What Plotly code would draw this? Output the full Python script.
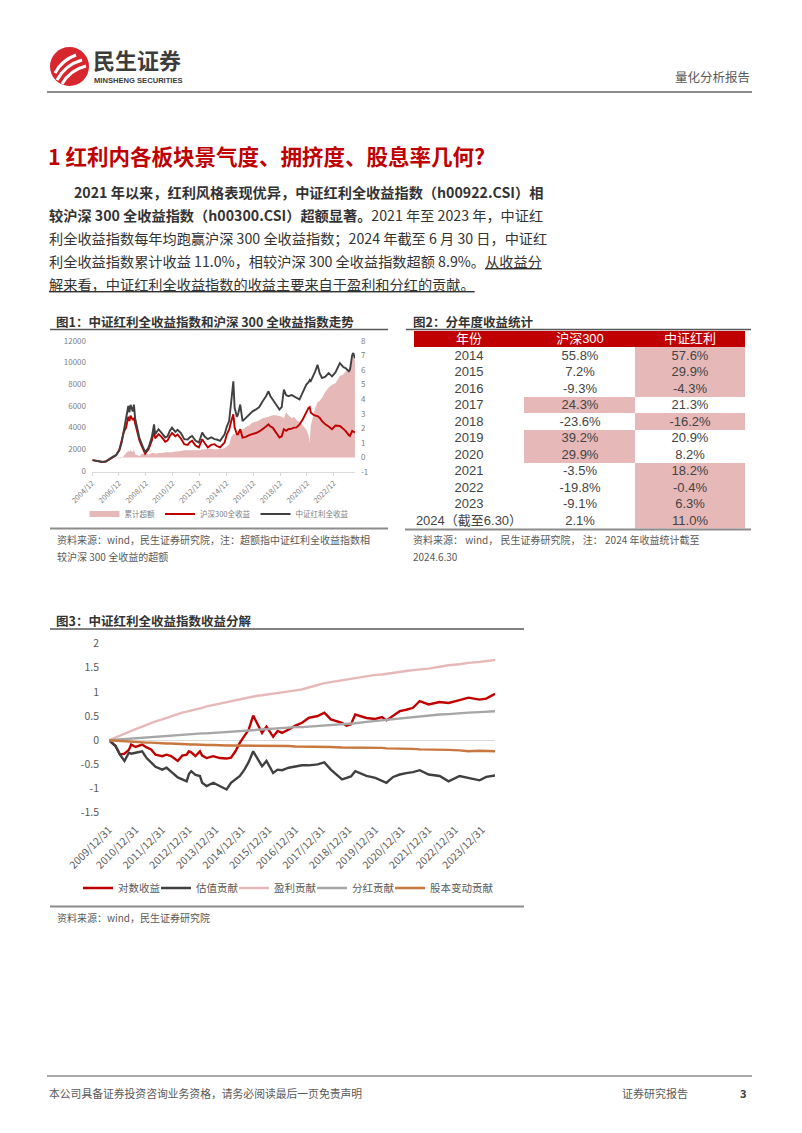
import plotly.graph_objects as go

W, H = 802, 1133
FONT = "Noto Sans CJK SC"
TABLE_FONT = "Liberation Sans, Noto Sans CJK SC"


def px(x):
    return x / W


def py(y):
    return 1 - y / H


# ---------------- Figure 1 data ----------------
f1_dates = [
    "2004-12-15", "2005-03-15", "2005-06-15", "2005-09-15", "2005-12-15", "2006-03-15", "2006-06-15", "2006-09-15", "2006-12-15", "2007-02-15",
    "2007-04-15", "2007-06-15", "2007-08-15", "2007-09-15", "2007-10-15", "2007-12-15", "2008-01-15", "2008-02-15", "2008-04-15", "2008-06-15",
    "2008-08-15", "2008-11-15", "2009-02-15", "2009-05-15", "2009-07-15", "2009-08-15", "2009-11-15", "2010-02-15", "2010-05-15", "2010-07-15",
    "2010-09-15", "2010-11-15", "2011-02-15", "2011-04-15", "2011-07-15", "2011-10-15", "2012-01-15", "2012-03-15", "2012-05-15", "2012-08-15",
    "2012-11-15", "2013-02-15", "2013-04-15", "2013-07-15", "2013-10-15", "2014-01-15", "2014-03-15", "2014-06-15", "2014-08-15", "2014-10-15",
    "2014-12-15", "2015-02-15", "2015-04-15", "2015-06-10", "2015-07-15", "2015-09-15", "2015-10-15", "2015-12-15", "2016-02-15", "2016-05-15",
    "2016-08-15", "2016-11-15", "2017-02-15", "2017-05-15", "2017-08-15", "2017-11-15", "2018-01-20", "2018-03-15", "2018-05-15", "2018-08-15",
    "2018-11-15", "2019-01-15", "2019-03-15", "2019-05-15", "2019-07-15", "2019-10-15", "2019-12-15", "2020-02-15", "2020-05-15", "2020-08-15",
    "2020-11-15", "2021-01-15", "2021-02-15", "2021-03-15", "2021-05-15", "2021-07-15", "2021-09-15", "2021-11-15", "2022-01-15", "2022-04-15",
    "2022-07-15", "2022-10-15", "2023-01-15", "2023-05-15", "2023-08-15", "2023-10-15", "2024-01-15", "2024-02-15", "2024-04-15", "2024-05-15",
    "2024-06-28",
]
f1_dividend_tr = [
    1000, 950, 900, 820, 880, 1100, 1300, 1450, 1900, 2600,
    3700, 4600, 6000, 5400, 6100, 5500, 6130, 4900, 3900, 3000,
    2470, 1710, 2170, 3100, 4300, 3400, 3850, 3500, 3090, 3200,
    3700, 4000, 3600, 3800, 3500, 2930, 2900, 3100, 3230, 2800,
    2620, 3550, 3200, 2930, 3100, 2930, 2900, 2780, 3100, 3390,
    4100, 4600, 6440, 8270, 5830, 5000, 5220, 6130, 4600, 4900,
    5220, 5500, 5680, 5900, 6440, 6900, 7360, 6900, 6600, 6100,
    5680, 5900, 7500, 7000, 6900, 7000, 6900, 6750, 6600, 7300,
    7970, 8200, 8400, 8300, 8730, 9200, 9800, 9000, 8580, 8700,
    9040, 8730, 9100, 9950, 9600, 9500, 9200, 9350, 10710, 10900,
    10400,
]
f1_hs300_tr = [
    1000, 950, 880, 820, 870, 1080, 1280, 1450, 1950, 2700,
    3600, 4000, 5000, 4600, 5100, 4700, 4900, 4400, 3600, 2800,
    2300, 1600, 2000, 2800, 3700, 3000, 3400, 3100, 2700, 2800,
    3200, 3500, 3200, 3350, 3000, 2470, 2400, 2650, 2780, 2350,
    2170, 2930, 2600, 2170, 2400, 2470, 2300, 2170, 2400, 2620,
    3390, 3800, 4600, 5220, 4000, 3390, 3390, 3850, 3080, 3150,
    3300, 3390, 3500, 3650, 3850, 4100, 4300, 4100, 4000, 3500,
    3080, 3200, 3850, 3700, 3850, 3900, 4000, 4000, 4300, 4800,
    5500, 5830, 5900, 5400, 5220, 5100, 5070, 4900, 4600, 4300,
    4100, 3850, 4200, 4150, 3900, 3700, 3300, 3230, 3700, 3650,
    3550,
]
f1_excess = [
    0, 0, 0, 0, 0, 0.02, 0.02, 0, -0.05, -0.05,
    0.1, 0.3, 0.45, 0.4, 0.5, 0.35, 0.6, 0.2, 0.15, 0.1,
    0.25, 0.25, 0.2, 0.3, 0.3, 0.25, 0.3, 0.3, 0.35, 0.35,
    0.35, 0.35, 0.4, 0.4, 0.45, 0.5, 0.5, 0.5, 0.5, 0.5,
    0.5, 0.55, 0.55, 0.6, 0.6, 0.55, 0.55, 0.6, 0.6, 0.65,
    0.75, 0.9, 1.4, 1.6, 1.6, 1.6, 1.7, 1.9, 1.9, 2.1,
    2.2, 2.4, 2.45, 2.55, 2.7, 2.75, 2.8, 2.85, 2.9, 2.9,
    2.85, 2.8, 2.7, 3.1, 2.9, 2.7, 2.8, 2.6, 2.4, 2.2,
    1.9, 1.5, 1.0, 2.2, 2.8, 3.4, 3.8, 3.9, 4.1, 4.5,
    4.8, 5.0, 5.1, 5.6, 5.7, 5.9, 6.1, 6.3, 6.8, 7.0,
    6.7,
]
f1_tick_years = [2004, 2006, 2008, 2010, 2012, 2014, 2016, 2018, 2020, 2022]
f1_left_ticks = [0, 2000, 4000, 6000, 8000, 10000, 12000]
f1_right_ticks = [-1, 0, 1, 2, 3, 4, 5, 6, 7, 8]

# ---------------- Figure 2 (table) data ----------------
tbl_years = ["2014", "2015", "2016", "2017", "2018", "2019", "2020", "2021", "2022", "2023", "2024（截至6.30）"]
tbl_hs300 = [55.8, 7.2, -9.3, 24.3, -23.6, 39.2, 29.9, -3.5, -19.8, -9.1, 2.1]
tbl_dividend = [57.6, 29.9, -4.3, 21.3, -16.2, 20.9, 8.2, 18.2, -0.4, 6.3, 11.0]
tbl_header = ["年份", "沪深300", "中证红利"]

# ---------------- Figure 3 data ----------------
f3_dates = [
    "2009-12-31", "2010-03-31", "2010-05-31", "2010-07-31", "2010-09-30", "2010-10-31", "2010-12-31", "2011-03-31", "2011-05-31", "2011-07-31",
    "2011-09-30", "2011-12-31", "2012-02-29", "2012-04-30", "2012-07-31", "2012-09-30", "2012-11-30", "2012-12-31", "2013-01-31", "2013-03-31",
    "2013-05-31", "2013-06-30", "2013-08-31", "2013-11-30", "2014-02-28", "2014-05-31", "2014-07-31", "2014-09-30", "2014-11-30", "2015-01-31",
    "2015-03-31", "2015-05-31", "2015-07-31", "2015-09-30", "2015-11-30", "2016-02-29", "2016-04-30", "2016-06-30", "2016-09-30", "2016-12-31",
    "2017-03-31", "2017-06-30", "2017-10-31", "2018-01-31", "2018-04-30", "2018-09-30", "2018-11-30", "2019-01-31", "2019-03-31", "2019-08-31",
    "2019-12-31", "2020-03-31", "2020-05-31", "2020-08-31", "2020-11-30", "2021-02-28", "2021-05-31", "2021-08-31", "2021-12-31", "2022-05-31",
    "2022-09-30", "2023-02-28", "2023-06-30", "2023-11-30", "2024-02-29", "2024-06-28",
]
f3_log_return = [
    0, -0.12, -0.3, -0.28, -0.2, -0.09, -0.14, -0.09, -0.15, -0.19,
    -0.3, -0.33, -0.3, -0.33, -0.43, -0.32, -0.3, -0.23, -0.25, -0.33,
    -0.23, -0.32, -0.37, -0.33, -0.37, -0.38, -0.36, -0.23, -0.05, 0.08,
    0.22, 0.51, 0.32, 0.15, 0.28, 0.07, 0.19, 0.15, 0.22, 0.3,
    0.36, 0.46, 0.5, 0.57, 0.43, 0.36, 0.3, 0.33, 0.53, 0.46,
    0.44, 0.48, 0.41, 0.51, 0.6, 0.63, 0.67, 0.81, 0.74, 0.79,
    0.77, 0.83, 0.88, 0.84, 0.86, 0.96,
]
f3_valuation = [
    0, -0.12, -0.3, -0.43, -0.26, -0.28, -0.26, -0.23, -0.37, -0.45,
    -0.55, -0.61, -0.57, -0.65, -0.77, -0.81, -0.85, -0.7, -0.64, -0.72,
    -0.74, -0.88, -0.95, -0.88, -0.95, -1.02, -0.88, -0.8, -0.74, -0.61,
    -0.45, -0.23, -0.4, -0.54, -0.43, -0.68, -0.61, -0.62, -0.57, -0.55,
    -0.52, -0.52, -0.5, -0.46, -0.61, -0.81, -0.78, -0.75, -0.64, -0.74,
    -0.78, -0.85, -0.88, -0.76, -0.71, -0.68, -0.66, -0.62, -0.71, -0.74,
    -0.85, -0.74, -0.78, -0.83, -0.76, -0.73,
]
f3_earnings = [
    0, 0.06, 0.1, 0.13, 0.17, 0.19, 0.23, 0.28, 0.32, 0.35,
    0.39, 0.43, 0.46, 0.5, 0.54, 0.57, 0.59, 0.6, 0.61, 0.64,
    0.66, 0.67, 0.7, 0.73, 0.76, 0.79, 0.8, 0.82, 0.84, 0.86,
    0.88, 0.9, 0.92, 0.93, 0.94, 0.96, 0.98, 0.99, 1.01, 1.03,
    1.05, 1.09, 1.14, 1.18, 1.2, 1.24, 1.26, 1.27, 1.29, 1.33,
    1.35, 1.36, 1.37, 1.39, 1.41, 1.43, 1.45, 1.46, 1.48, 1.52,
    1.55, 1.57, 1.6, 1.62, 1.64, 1.66,
]
f3_dividend = [
    0, 0.01, 0.02, 0.02, 0.03, 0.03, 0.04, 0.05, 0.06, 0.06,
    0.07, 0.08, 0.09, 0.1, 0.11, 0.12, 0.12, 0.12, 0.13, 0.13,
    0.14, 0.14, 0.14, 0.15, 0.16, 0.17, 0.18, 0.19, 0.19, 0.2,
    0.21, 0.21, 0.22, 0.22, 0.23, 0.24, 0.25, 0.25, 0.26, 0.27,
    0.27, 0.28, 0.29, 0.3, 0.31, 0.32, 0.33, 0.34, 0.35, 0.38,
    0.4, 0.41, 0.42, 0.44, 0.45, 0.47, 0.48, 0.5, 0.51, 0.53,
    0.54, 0.56, 0.57, 0.58, 0.59, 0.6,
]
f3_share_change = [
    0, -0.01, -0.02, -0.02, -0.03, -0.03, -0.04, -0.05, -0.05, -0.05,
    -0.06, -0.06, -0.07, -0.07, -0.08, -0.08, -0.09, -0.09, -0.09, -0.09,
    -0.1, -0.1, -0.1, -0.1, -0.11, -0.11, -0.11, -0.11, -0.11, -0.11,
    -0.11, -0.11, -0.12, -0.12, -0.12, -0.12, -0.12, -0.12, -0.12, -0.13,
    -0.13, -0.13, -0.14, -0.14, -0.14, -0.15, -0.15, -0.15, -0.16, -0.16,
    -0.16, -0.16, -0.17, -0.17, -0.17, -0.18, -0.18, -0.19, -0.19, -0.2,
    -0.2, -0.21, -0.23, -0.22, -0.23, -0.23,
]
f3_tick_years = list(range(2009, 2024))
f3_y_ticks = [-1.5, -1, -0.5, 0, 0.5, 1, 1.5, 2]

# ---------------- colours ----------------
RED = "#C00000"
DARK = "#404040"
PINK = "#E6B8B7"
GRAY = "#A6A6A6"
ORANGE = "#C8773E"
TXT = "#333333"
NOTE = "#595959"

fig = go.Figure()

# Figure 1 traces (area on base y axis so lines draw on top)
fig.add_trace(go.Scatter(x=f1_dates, y=f1_excess, name="累计超额", mode="none", fill="tozeroy",
                         fillcolor=PINK, xaxis="x", yaxis="y", legend="legend", hoverinfo="skip"))
fig.add_trace(go.Scatter(x=f1_dates, y=f1_hs300_tr, name="沪深300全收益", mode="lines",
                         line=dict(color=RED, width=1.9), xaxis="x", yaxis="y2", legend="legend"))
fig.add_trace(go.Scatter(x=f1_dates, y=f1_dividend_tr, name="中证红利全收益", mode="lines",
                         line=dict(color=DARK, width=1.9), xaxis="x", yaxis="y2", legend="legend"))


# Figure 2 table, drawn as a heatmap grid: 0 = plain, 1 = highlighted (higher return), 2 = header
def fmt(v):
    return f"{v:.1f}%"


tbl_z = [[2, 2, 2]]
tbl_text = [list(tbl_header)]
for yr, a, b in zip(tbl_years, tbl_hs300, tbl_dividend):
    tbl_z.append([0, 1 if a > b else 0, 1 if b > a else 0])
    tbl_text.append([yr, fmt(a), fmt(b)])

fig.add_trace(go.Heatmap(
    z=tbl_z, x=[0, 1, 2], y=list(range(len(tbl_z))), text=tbl_text, texttemplate="%{text}",
    textfont=dict(family=TABLE_FONT, size=13), zmin=0, zmax=2, showscale=False,
    colorscale=[[0, "white"], [0.5, PINK], [1, RED]], xgap=0, ygap=0,
    xaxis="x3", yaxis="y4", hoverinfo="skip", showlegend=False,
))

# Figure 3 traces
f3_series = [
    ("对数收益", f3_log_return, RED),
    ("估值贡献", f3_valuation, DARK),
    ("盈利贡献", f3_earnings, PINK),
    ("分红贡献", f3_dividend, GRAY),
    ("股本变动贡献", f3_share_change, ORANGE),
]
for name, vals, col in f3_series:
    fig.add_trace(go.Scatter(x=f3_dates, y=vals, name=name, mode="lines",
                             line=dict(color=col, width=2.4), xaxis="x2", yaxis="y3", legend="legend2",
                             legendwidth=(75 if name == "股本变动贡献" else None)))

fig.update_layout(
    width=W, height=H, margin=dict(l=0, r=0, t=0, b=0, autoexpand=False),
    paper_bgcolor="white", plot_bgcolor="white",
    font=dict(family=FONT, color=TXT),
    xaxis=dict(domain=[px(92), px(355)], anchor="y", type="date", automargin=False,
               range=["2004-12-01", "2024-06-30"],
               tickvals=[f"{y}-12-01" for y in f1_tick_years],
               ticktext=[f"{y}/12" for y in f1_tick_years],
               tickangle=-45, tickfont=dict(size=7.5, color="#808080"),
               showgrid=False, zeroline=False, showline=True, linecolor="#D9D9D9", linewidth=1,
               ticks="outside", ticklen=3, tickcolor="#D9D9D9"),
    yaxis=dict(domain=[py(472), py(341)], anchor="x", side="right", range=[-1, 8], automargin=False,
               tickvals=f1_right_ticks, ticktext=[str(v) for v in f1_right_ticks],
               tickfont=dict(size=8, color="#808080"), showgrid=False, zeroline=False,
               showline=False, ticklabelstandoff=5),
    yaxis2=dict(overlaying="y", anchor="x", side="left", range=[-100, 12000], automargin=False,
                tickmode="array", tickvals=f1_left_ticks, ticktext=[str(v) for v in f1_left_ticks],
                tickfont=dict(size=8, color="#808080"), showgrid=False, zeroline=False,
                showline=False, ticklabelstandoff=5),
    xaxis2=dict(domain=[px(109), px(495)], anchor="y3", type="date", automargin=False,
                range=["2009-12-31", "2024-06-28"],
                tickvals=[f"{y}-12-31" for y in f3_tick_years],
                ticktext=[f"{y}/12/31" for y in f3_tick_years],
                tickangle=-45, tickfont=dict(size=10.5, color=NOTE),
                showgrid=False, zeroline=False, showline=False, ticklabelstandoff=8),
    yaxis3=dict(domain=[py(812.7), py(643.5)], anchor="x2", range=[-1.5, 2], automargin=False,
                tickvals=f3_y_ticks, ticktext=[f"{v:g}" for v in f3_y_ticks],
                tickfont=dict(size=10.5, color=NOTE), showgrid=False,
                zeroline=True, zerolinecolor="#D9D9D9", zerolinewidth=1,
                showline=False, ticklabelstandoff=9),
    xaxis3=dict(domain=[px(414), px(745)], anchor="y4", range=[-0.5, 2.5], automargin=False,
                showticklabels=False, showgrid=False, zeroline=False, showline=False, ticks=""),
    yaxis4=dict(domain=[py(528.7), py(330.7)], anchor="x3", range=[11.5, -0.5], automargin=False,
                showticklabels=False, showgrid=False, zeroline=False, showline=False, ticks=""),
    legend=dict(orientation="h", x=px(219), xanchor="center", y=py(514), yanchor="middle",
                font=dict(family=FONT, size=7.5, color="#808080"), bgcolor="rgba(0,0,0,0)",
                itemwidth=30),
    legend2=dict(orientation="h", x=px(78), xanchor="left", y=py(888), yanchor="middle",
                 font=dict(family=FONT, size=10.5, color=NOTE), bgcolor="rgba(0,0,0,0)",
                 entrywidth=33, entrywidthmode="pixels", itemwidth=30),
    showlegend=True,
)

# ---------------- page decorations ----------------
shapes = []


def hline(x0, x1, y, color, width):
    shapes.append(dict(type="line", xref="paper", yref="paper", x0=px(x0), x1=px(x1), y0=py(y), y1=py(y),
                       line=dict(color=color, width=width)))


# logo
shapes.append(dict(type="circle", xref="paper", yref="paper", x0=px(50), x1=px(89), y0=py(86), y1=py(47),
                   fillcolor="#D7262D", line=dict(width=0)))


def curve(p0, c, p1, w):
    path = f"M {px(p0[0])},{py(p0[1])} Q {px(c[0])},{py(c[1])} {px(p1[0])},{py(p1[1])}"
    shapes.append(dict(type="path", xref="paper", yref="paper", path=path,
                       line=dict(color="white", width=w)))


curve((55, 73), (62, 60), (76, 55), 3)
curve((57, 80), (65, 65), (82, 60), 3)
curve((62, 84), (70, 70), (86, 66), 3)

hline(47, 752, 92, "#8C8C8C", 2)
hline(50, 388, 329.5, "#595959", 1.5)
hline(406, 751, 329.5, "#595959", 1.5)
hline(50, 388, 528.5, "#8C8C8C", 2)
hline(405, 751, 529.5, "#8C8C8C", 2)
hline(50, 524, 629, "#595959", 1.5)
hline(50, 524, 906.5, "#8C8C8C", 2)
hline(47, 752, 1076, "#8C8C8C", 1.5)

ann = []


def text(x, y, s, size, color=TXT, anchor="left", family=FONT):
    ann.append(dict(xref="paper", yref="paper", x=px(x), y=py(y), text=s, showarrow=False,
                    xanchor=anchor, yanchor="middle", font=dict(family=family, size=size, color=color)))


text(91, 59.5, "<b>民生证券</b>", 22, "#3C3C3C")
text(92, 80.5, "<b>MINSHENG SECURITIES</b>", 7.6, "#3C3C3C", family="Liberation Sans")
text(752, 77, "量化分析报告", 12.5, NOTE, anchor="right")

text(46, 155, "<b>1 红利内各板块景气度、拥挤度、股息率几何?</b>", 21.5, RED)

text(72, 192, "<b>2021 年以来，红利风格表现优异，中证红利全收益指数（h00922.CSI）相</b>", 14.2)
text(47, 214.5, "<b>较沪深 300 全收益指数（h00300.CSI）超额显著。</b>2021 年至 2023 年，中证红", 14.2)
text(47, 237.5, "利全收益指数每年均跑赢沪深 300 全收益指数；2024 年截至 6 月 30 日，中证红", 14.2)
text(47, 260.5, "利全收益指数累计收益 11.0%，相较沪深 300 全收益指数超额 8.9%。<u>从收益分</u>", 14.2)
text(47, 284, "<u>解来看，中证红利全收益指数的收益主要来自于盈利和分红的贡献。</u>", 14.2)

text(54, 321, "<b>图1：中证红利全收益指数和沪深 300 全收益指数走势</b>", 12.5)
text(411, 321, "<b>图2：分年度收益统计</b>", 12.5)
text(54, 620, "<b>图3：中证红利全收益指数收益分解</b>", 12.5)

text(55, 539.5, "资料来源：wind，民生证券研究院，注：超额指中证红利全收益指数相", 10, NOTE)
text(55, 556.5, "较沪深 300 全收益的超额", 10, NOTE)
text(411, 539.5, "资料来源： wind， 民生证券研究院， 注： 2024 年收益统计截至", 10, NOTE)
text(411, 556.5, "2024.6.30", 10, NOTE)
text(55, 917, "资料来源：wind，民生证券研究院", 10, NOTE)

text(47, 1093, "本公司具备证券投资咨询业务资格，请务必阅读最后一页免责声明", 10.8, NOTE)
text(690, 1093, "证券研究报告", 11, NOTE, anchor="right")
text(749, 1093, "<b>3</b>", 11, "#404040", anchor="right")

fig.update_layout(shapes=shapes, annotations=ann)

fig.write_html("out.html")
